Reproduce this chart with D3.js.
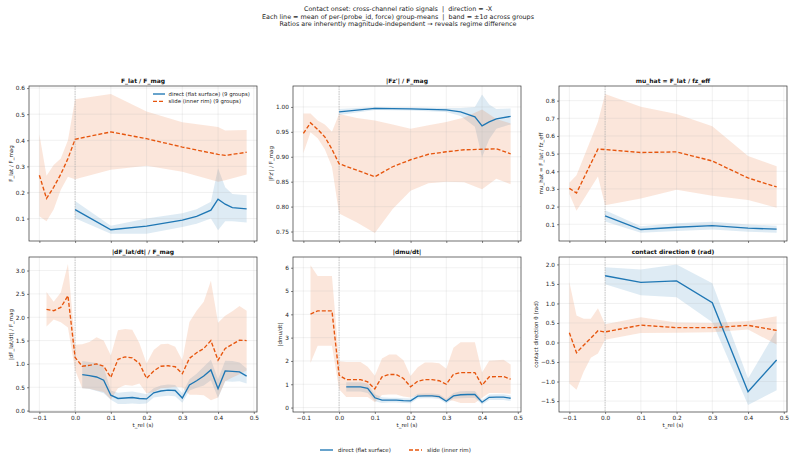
<!DOCTYPE html>
<html>
<head>
<meta charset="utf-8">
<script src="https://cdn.jsdelivr.net/npm/d3@7"></script>
<style>
body { margin: 0; background: #fff; }
svg { font-family: "DejaVu Sans", sans-serif; }
svg text { white-space: pre; }
</style>
</head>
<body>
<svg id="chart" width="796" height="459"></svg>
<script>
// ---- data ----
var xTicks = [-0.1, 0, 0.1, 0.2, 0.3, 0.4, 0.5];

// F_lat / F_mag
var flatT_direct = [0, 0.1, 0.2, 0.3, 0.34, 0.38, 0.4, 0.42, 0.44, 0.48];
var flat_direct = [0.134, 0.057, 0.071, 0.094, 0.108, 0.132, 0.174, 0.155, 0.142, 0.137];
var flat_direct_sd = [0.033, 0.015, 0.029, 0.026, 0.028, 0.032, 0.119, 0.065, 0.052, 0.052];
var flatT_slide = [-0.1, -0.08, -0.06, -0.04, -0.02, 0, 0.1, 0.2, 0.3, 0.4, 0.42, 0.48];
var flat_slide = [0.266, 0.177, 0.22, 0.27, 0.33, 0.404, 0.432, 0.406, 0.374, 0.346, 0.342, 0.354];
var flat_slide_sd = [0.157, 0.087, 0.085, 0.06, 0.07, 0.153, 0.145, 0.104, 0.095, 0.105, 0.095, 0.085];
var flatTicks = [0.1, 0.2, 0.3, 0.4, 0.5, 0.6];

// |Fz'| / F_mag
var fzT_direct = [0, 0.1, 0.2, 0.3, 0.34, 0.38, 0.4, 0.42, 0.44, 0.48];
var fz_direct = [0.99, 0.997, 0.996, 0.994, 0.99, 0.98, 0.962, 0.97, 0.976, 0.981];
var fz_direct_sd = [0.006, 0.003, 0.003, 0.004, 0.008, 0.02, 0.063, 0.035, 0.02, 0.016];
var fzT_slide = [-0.1, -0.08, -0.06, -0.04, -0.02, 0, 0.05, 0.1, 0.15, 0.2, 0.25, 0.3, 0.35, 0.4, 0.44, 0.48];
var fz_slide = [0.947, 0.968, 0.955, 0.94, 0.915, 0.886, 0.873, 0.86, 0.88, 0.894, 0.905, 0.91, 0.914, 0.915, 0.916, 0.906];
var fz_slide_sd = [0.04, 0.019, 0.018, 0.025, 0.035, 0.1, 0.105, 0.113, 0.085, 0.062, 0.058, 0.06, 0.065, 0.08, 0.06, 0.061];
var fzTicks = [0.75, 0.8, 0.85, 0.9, 0.95, 1.0];

// mu_hat = F_lat / fz_eff
var muT_direct = [0, 0.1, 0.2, 0.3, 0.4, 0.48];
var mu_direct = [0.147, 0.07, 0.083, 0.092, 0.078, 0.072];
var mu_direct_sd = [0.032, 0.018, 0.022, 0.022, 0.02, 0.02];
var muT_slide = [-0.1, -0.08, -0.02, 0, 0.1, 0.2, 0.3, 0.4, 0.48];
var mu_slide = [0.303, 0.277, 0.526, 0.523, 0.506, 0.51, 0.458, 0.362, 0.311];
var mu_slide_sd = [0.032, 0.1, 0.155, 0.315, 0.26, 0.215, 0.197, 0.125, 0.117];
var muTicks = [0.1, 0.2, 0.3, 0.4, 0.5, 0.6, 0.7, 0.8];

// |dF_lat/dt| / F_mag  and |dmu/dt| share the 0.02 s grid
var gridT_slide = [-0.08, -0.06, -0.04, -0.02, 0, 0.02, 0.04, 0.06, 0.08, 0.1, 0.12, 0.14, 0.16, 0.18, 0.2,
  0.22, 0.24, 0.26, 0.28, 0.3, 0.32, 0.34, 0.36, 0.38, 0.4, 0.42, 0.44, 0.46, 0.48];
var gridT_direct = [0.02, 0.04, 0.06, 0.08, 0.1, 0.12, 0.14, 0.16, 0.18, 0.2,
  0.22, 0.24, 0.26, 0.28, 0.3, 0.32, 0.34, 0.36, 0.38, 0.4, 0.42, 0.44, 0.46, 0.48];

var dflat_slide = [2.17, 2.14, 2.21, 2.46, 1.14, 0.95, 0.97, 1.0, 0.95, 0.71, 1.10, 1.15, 1.13, 1.01, 0.69,
  0.85, 0.95, 0.96, 0.94, 0.79, 1.12, 1.24, 1.33, 1.50, 1.08, 1.33, 1.42, 1.51, 1.50];
var dflat_slide_sd = [0.37, 0.19, 0.32, 0.68, 0.27, 0.47, 0.5, 0.57, 0.55, 0.47, 0.62, 0.6, 0.6, 0.43, 0.32,
  0.45, 0.47, 0.47, 0.43, 0.29, 0.78, 0.9, 1.0, 1.28, 0.8, 0.7, 0.71, 0.73, 0.64];
var dflat_direct = [0.77, 0.75, 0.72, 0.65, 0.33, 0.26, 0.27, 0.28, 0.26, 0.25, 0.38, 0.42, 0.44, 0.43, 0.27,
  0.55, 0.64, 0.74, 0.87, 0.47, 0.85, 0.84, 0.83, 0.74];
var dflat_direct_sd = [0.29, 0.29, 0.3, 0.28, 0.1, 0.12, 0.13, 0.13, 0.12, 0.1, 0.1, 0.12, 0.12, 0.12, 0.1,
  0.12, 0.15, 0.2, 0.22, 0.2, 0.22, 0.22, 0.2, 0.16];
var dflatTicks = [0, 0.5, 1.0, 1.5, 2.0, 2.5, 3.0];

var dmu_slide = [4.01, 4.15, 4.15, 4.15, 1.39, 1.2, 1.2, 1.2, 1.1, 0.8, 1.32, 1.42, 1.42, 1.25, 0.89,
  1.13, 1.2, 1.2, 1.15, 1.0, 1.43, 1.5, 1.5, 1.5, 0.96, 1.32, 1.33, 1.33, 1.22];
var dmu_slide_sd = [2.1, 1.5, 1.5, 1.5, 0.6, 0.75, 0.75, 0.75, 0.65, 0.57, 0.78, 0.86, 0.86, 0.78, 0.46,
  0.6, 0.73, 0.73, 0.75, 0.67, 1.14, 1.3, 1.3, 1.3, 0.54, 0.69, 0.7, 0.72, 0.63];
var dmu_direct = [0.89, 0.89, 0.89, 0.82, 0.42, 0.32, 0.32, 0.32, 0.3, 0.29, 0.49, 0.5, 0.5, 0.47, 0.27,
  0.5, 0.55, 0.56, 0.56, 0.23, 0.44, 0.45, 0.45, 0.4];
var dmu_direct_sd = [0.2, 0.2, 0.2, 0.2, 0.15, 0.12, 0.1, 0.1, 0.1, 0.1, 0.1, 0.1, 0.1, 0.1, 0.1,
  0.12, 0.15, 0.15, 0.15, 0.1, 0.12, 0.12, 0.12, 0.12];
var dmuTicks = [0, 1, 2, 3, 4, 5, 6];

// contact direction theta (rad)
var thT_direct = [0, 0.1, 0.2, 0.3, 0.4, 0.48];
var th_direct = [1.71, 1.54, 1.58, 1.02, -1.26, -0.45];
var th_direct_sd = [0.22, 0.33, 0.42, 0.5, 0.34, 0.77];
var thT_slide = [-0.1, -0.08, -0.06, -0.04, -0.02, 0, 0.1, 0.2, 0.3, 0.4, 0.48];
var th_slide = [0.25, -0.26, -0.07, 0.11, 0.3, 0.27, 0.445, 0.38, 0.38, 0.44, 0.31];
var th_slide_sd = [1.3, 0.95, 0.68, 0.5, 0.58, 0.2, 0.2, 0.13, 0.12, 0.11, 0.36];
var thTicks = [-1.5, -1.0, -0.5, 0, 0.5, 1.0, 1.5, 2.0];

// ---- layout ----
var svg = d3.select("#chart");
var W = 228, H = 155;
var colX = [29, 293, 559], rowY = [86, 257];
var xDomain = [-0.129, 0.509];
var blue = "#1f77b4", orange = "#e6550d";

function zipSeries(t, m, s) {
  return t.map(function(d, i) { return {t: d, m: m[i], s: s[i]}; });
}

var panels = [
  {title: "F_lat / F_mag", ylab: "F_lat / F_mag", yDomain: [0.014, 0.608], ticks: flatTicks, fmt: ".1f",
   direct: zipSeries(flatT_direct, flat_direct, flat_direct_sd), slide: zipSeries(flatT_slide, flat_slide, flat_slide_sd)},
  {title: "|Fz'| / F_mag", ylab: "|Fz'| / F_mag", yDomain: [0.731, 1.042], ticks: fzTicks, fmt: ".2f",
   direct: zipSeries(fzT_direct, fz_direct, fz_direct_sd), slide: zipSeries(fzT_slide, fz_slide, fz_slide_sd)},
  {title: "mu_hat = F_lat / fz_eff", ylab: "mu_hat = F_lat / fz_eff", yDomain: [0.005, 0.883], ticks: muTicks, fmt: ".1f",
   direct: zipSeries(muT_direct, mu_direct, mu_direct_sd), slide: zipSeries(muT_slide, mu_slide, mu_slide_sd)},
  {title: "|dF_lat/dt| / F_mag", ylab: "|dF_lat/dt| / F_mag", yDomain: [-0.03, 3.29], ticks: dflatTicks, fmt: ".1f",
   direct: zipSeries(gridT_direct, dflat_direct, dflat_direct_sd), slide: zipSeries(gridT_slide, dflat_slide, dflat_slide_sd)},
  {title: "|dmu/dt|", ylab: "|dmu/dt|", yDomain: [-0.19, 6.46], ticks: dmuTicks, fmt: "d",
   direct: zipSeries(gridT_direct, dmu_direct, dmu_direct_sd), slide: zipSeries(gridT_slide, dmu_slide, dmu_slide_sd)},
  {title: "contact direction θ (rad)", ylab: "contact direction θ (rad)", yDomain: [-1.78, 2.19], ticks: thTicks, fmt: ".1f",
   direct: zipSeries(thT_direct, th_direct, th_direct_sd), slide: zipSeries(thT_slide, th_slide, th_slide_sd)}
];

// suptitle
var supLines = [
  "Contact onset: cross-channel ratio signals  |  direction = -X",
  "Each line = mean of per-(probe_id, force) group-means  |  band = ±1σ across groups",
  "Ratios are inherently magnitude-independent → reveals regime difference"
];
svg.append("g").selectAll("text").data(supLines).enter().append("text")
  .attr("x", 398).attr("y", function(d, i) { return 11 + i * 7.6; })
  .attr("text-anchor", "middle").attr("font-size", "6.4px").attr("fill", "#222")
  .text(function(d) { return d; });

panels.forEach(function(p, i) {
  var row = Math.floor(i / 3), col = i % 3;
  var g = svg.append("g").attr("transform", "translate(" + colX[col] + "," + rowY[row] + ")");
  var x = d3.scaleLinear().domain(xDomain).range([0, W]);
  var y = d3.scaleLinear().domain(p.yDomain).range([H, 0]);

  var clip = "clip" + i;
  g.append("clipPath").attr("id", clip).append("rect").attr("width", W).attr("height", H);
  var plot = g.append("g").attr("clip-path", "url(#" + clip + ")");

  // bands
  var area = d3.area().x(function(d) { return x(d.t); })
    .y0(function(d) { return y(d.m - d.s); }).y1(function(d) { return y(d.m + d.s); });
  plot.append("path").datum(p.direct).attr("d", area).attr("fill", blue).attr("fill-opacity", 0.15);
  plot.append("path").datum(p.slide).attr("d", area).attr("fill", orange).attr("fill-opacity", 0.15);

  // grid
  plot.append("g").selectAll("line").data(xTicks).enter().append("line")
    .attr("x1", x).attr("x2", x).attr("y1", 0).attr("y2", H)
    .attr("stroke", "#b0b0b0").attr("stroke-opacity", 0.3).attr("stroke-width", 0.6);
  plot.append("g").selectAll("line").data(p.ticks).enter().append("line")
    .attr("y1", y).attr("y2", y).attr("x1", 0).attr("x2", W)
    .attr("stroke", "#b0b0b0").attr("stroke-opacity", 0.3).attr("stroke-width", 0.6);

  // t = 0 marker
  plot.append("line").attr("x1", x(0)).attr("x2", x(0)).attr("y1", 0).attr("y2", H)
    .attr("stroke", "#aaa").attr("stroke-width", 0.6).attr("stroke-dasharray", "1.5,1");

  var line = d3.line().x(function(d) { return x(d.t); }).y(function(d) { return y(d.m); });
  plot.append("path").datum(p.direct).attr("d", line).attr("fill", "none")
    .attr("stroke", blue).attr("stroke-width", 1.35);
  plot.append("path").datum(p.slide).attr("d", line).attr("fill", "none")
    .attr("stroke", orange).attr("stroke-width", 1.35).attr("stroke-dasharray", "4,2");

  // axes
  var yAxis = g.append("g").call(d3.axisLeft(y).tickValues(p.ticks).tickFormat(d3.format(p.fmt))
    .tickSize(2).tickPadding(2));
  var xAxis = g.append("g").attr("transform", "translate(0," + H + ")")
    .call(d3.axisBottom(x).tickValues(xTicks)
      .tickFormat(row === 1 ? d3.format(".1f") : function() { return ""; })
      .tickSize(2).tickPadding(2));
  [yAxis, xAxis].forEach(function(a) {
    a.select(".domain").remove();
    a.selectAll("line").attr("stroke", "#333").attr("stroke-width", 0.6);
    a.selectAll("text").attr("font-size", "5.8px").attr("fill", "#222").attr("font-family", "DejaVu Sans");
  });

  g.append("rect").attr("width", W).attr("height", H).attr("fill", "none")
    .attr("stroke", "#333").attr("stroke-width", 0.7);

  // labels
  var maxW = 0;
  yAxis.selectAll("text").each(function() { maxW = Math.max(maxW, this.getComputedTextLength()); });
  g.append("text").attr("transform", "translate(" + (-(maxW + 7)) + "," + (H / 2) + ") rotate(-90)")
    .attr("text-anchor", "middle").attr("font-size", "5.5px").attr("fill", "#222").text(p.ylab);
  g.append("text").attr("x", W / 2).attr("y", -3.5).attr("text-anchor", "middle")
    .attr("font-size", "6px").attr("font-weight", "bold").attr("fill", "#111").text(p.title);
  if (row === 1) {
    g.append("text").attr("x", W / 2).attr("y", H + 14.5).attr("text-anchor", "middle")
      .attr("font-size", "5.5px").attr("fill", "#222").text("t_rel (s)");
  }

  // inner legend on first panel
  if (i === 0) {
    var leg = g.append("g").attr("transform", "translate(124,8)");
    var items = [["direct (flat surface) (9 groups)", blue, null], ["slide (inner rim) (9 groups)", orange, "4,2"]];
    items.forEach(function(it, k) {
      leg.append("line").attr("x1", 0).attr("x2", 12).attr("y1", k * 7.3).attr("y2", k * 7.3)
        .attr("stroke", it[1]).attr("stroke-width", 1.35).attr("stroke-dasharray", it[2]);
      leg.append("text").attr("x", 15.5).attr("y", k * 7.3 + 2).attr("font-size", "5.4px")
        .attr("fill", "#222").text(it[0]);
    });
  }
});

// figure legend at the bottom
var figLeg = svg.append("g").attr("transform", "translate(320,450)");
[["direct (flat surface)", blue, null, 0], ["slide (inner rim)", orange, "4,2", 89]].forEach(function(it) {
  figLeg.append("line").attr("x1", it[3]).attr("x2", it[3] + 13).attr("y1", 0).attr("y2", 0)
    .attr("stroke", it[1]).attr("stroke-width", 1.35).attr("stroke-dasharray", it[2]);
  figLeg.append("text").attr("x", it[3] + 18).attr("y", 2).attr("font-size", "5.5px")
    .attr("fill", "#222").text(it[0]);
});
</script>
</body>
</html>
